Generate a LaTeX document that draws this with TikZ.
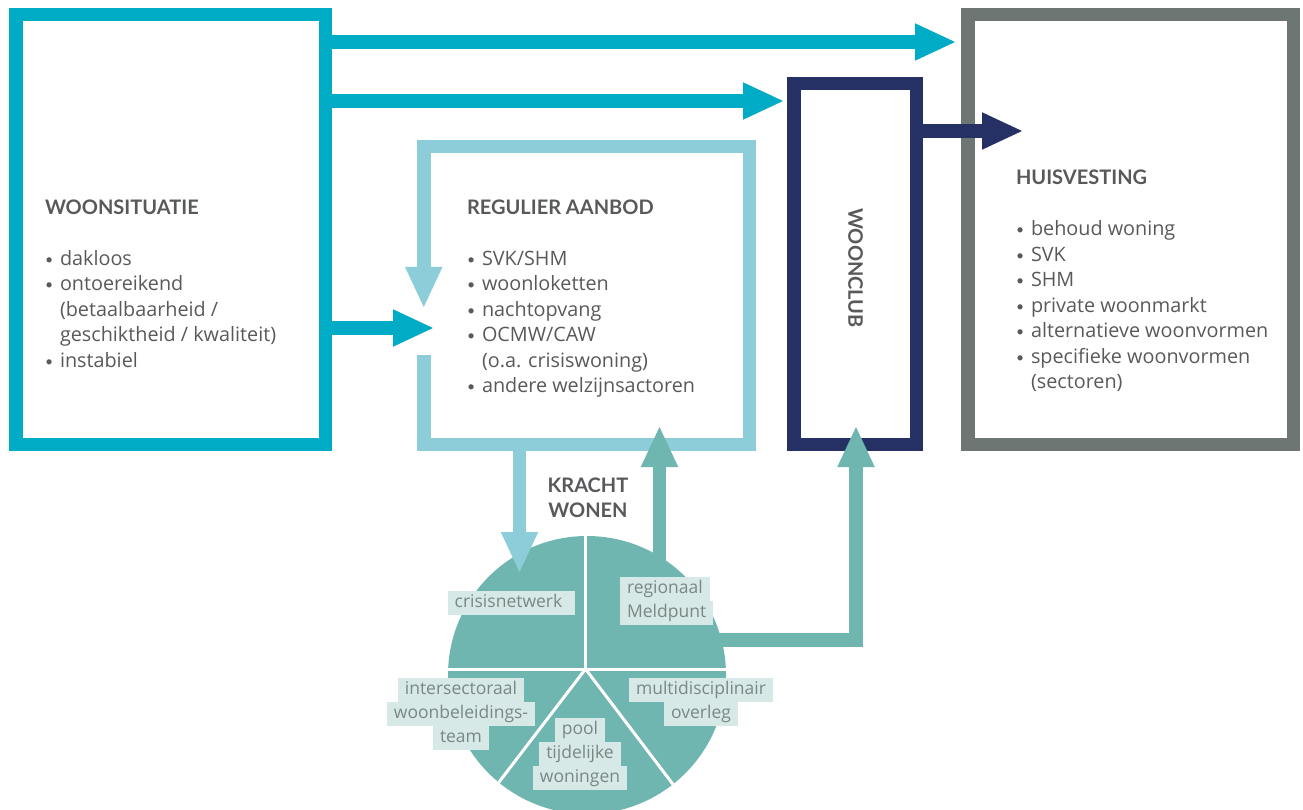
\documentclass[tikz,border=0pt]{standalone}
\usepackage{fontspec}
\setmainfont{Lato}
\newfontfamily\osans{Open Sans}
\usetikzlibrary{arrows.meta}
\definecolor{cyanc}{HTML}{00ABC5}
\definecolor{lblue}{HTML}{8CCDD9}
\definecolor{navy}{HTML}{253065}
\definecolor{grayb}{HTML}{6E7674}
\definecolor{tealc}{HTML}{6FB5B0}
\definecolor{txt}{HTML}{58595B}
\definecolor{labfill}{HTML}{D6E9E7}
\definecolor{labtxt}{HTML}{7B8785}
\newcommand\bodyf{\osans\fontsize{19.8}{25.5}\selectfont}
\newcommand\ttlf{\fontsize{20}{25.5}\selectfont\rmfamily\bfseries}
\newcommand\labelf{\osans\fontsize{17.5}{24}\selectfont}
\newcommand\bul{\makebox[15pt][l]{\raisebox{1pt}{\rmfamily\fontsize{14}{14}\selectfont •}}}
\newcommand\lb[1]{\colorbox{labfill}{\strut\hspace{7pt}#1\hspace{7pt}}}
\setlength\fboxsep{0pt}
\begin{document}
\begin{tikzpicture}[x=1pt,y=-1pt,outer sep=0pt,
  boxframe/.style={draw=#1, line width=13.5pt},
  shaft/.style={draw=#1, line width=13.5pt, -{Triangle[length=40pt,width=37.5pt,line width=0pt]}},
  listtext/.style={anchor=base west, inner sep=0pt, font=\bodyf, text=txt},
  pielabel/.style={inner sep=0pt, font=\labelf, text=labtxt}]
\useasboundingbox (0,0) rectangle (1303,810);
% boxes
\node[boxframe=cyanc, minimum width=309.5pt, minimum height=429.5pt] (ws) at (170.5,229.5) {};
\node[boxframe=grayb, minimum width=325.5pt, minimum height=429.5pt] (hv) at (1130.5,229.5) {};
\node[boxframe=navy, minimum width=122.5pt, minimum height=360.5pt] (wc) at (855,264) {};
\node[minimum width=325.5pt, minimum height=297.5pt] (ra) at (586.5,295.5) {};
% tip coordinates
\coordinate (t1) at (955,42);
\coordinate (t2) at (783,101);
\coordinate (t3) at (433,328);
\coordinate (t4) at (1022,131);
\coordinate (t5) at (424,307);
\coordinate (lbs) at (424,355);
\coordinate (t6) at (519.5,572);
\coordinate (pc) at (587,675);
\coordinate (g1) at (659.5,427);
\coordinate (g2h) at (856,640);
\coordinate (g2) at (856,427);
% connectors
\draw[shaft=cyanc] (ws.east |- t1) -- (t1);
\draw[shaft=cyanc] (ws.east |- t2) -- (t2);
\draw[shaft=cyanc] (ws.east |- t3) -- (t3);
\draw[shaft=navy] (wc.east |- t4) -- (t4);
\draw[shaft=lblue] (ra.west |- lbs) -- (ra.south west) -- (ra.south east) -- (ra.north east) -- (ra.north west) -- (ra.west |- t5);
\draw[shaft=tealc] (pc -| g1) -- (g1);
\draw[shaft=tealc] (pc |- g2h) -- (g2h) -- (g2);
% pie
\node[circle, fill=tealc, minimum size=278pt, inner sep=0pt] (pie) at (pc) {};
\begin{scope}
  \clip (pc) circle[radius=139pt];
  \draw[white, line width=3pt] (585.5,669) -- (585.5,520);
  \draw[white, line width=3pt] (430,669) -- (740,669);
  \draw[white, line width=3pt] (585.5,669) -- (457,837);
  \draw[white, line width=3pt] (585.5,669) -- (716,841);
\end{scope}
\draw[shaft=lblue] (ra.south -| t6) -- (t6);
% box texts
\node[listtext] (wstxt) at (45,214.5) {\begin{tabular}[t]{@{}l@{}l@{}}
\multicolumn{2}{@{}l@{}}{\ttlf WOONSITUATIE}\\
\\
\bul & dakloos\\
\bul & ontoereikend\\
 & (betaalbaarheid /\\
 & geschiktheid / kwaliteit)\\
\bul & instabiel
\end{tabular}};
\node[listtext] (ratxt) at (467,214.5) {\begin{tabular}[t]{@{}l@{}l@{}}
\multicolumn{2}{@{}l@{}}{\ttlf REGULIER AANBOD}\\
\\
\bul & SVK/SHM\\
\bul & woonloketten\\
\bul & nachtopvang\\
\bul & OCMW/CAW\\
 & (o.a. crisiswoning)\\
\bul & andere welzijnsactoren
\end{tabular}};
\node[listtext] (hvtxt) at (1016,185) {\begin{tabular}[t]{@{}l@{}l@{}}
\multicolumn{2}{@{}l@{}}{\ttlf HUISVESTING}\\
\\
\bul & behoud woning\\
\bul & SVK\\
\bul & SHM\\
\bul & private woonmarkt\\
\bul & alternatieve woonvormen\\
\bul & specifieke woonvormen\\
 & (sectoren)
\end{tabular}};
\node[rotate=-90, font=\ttlf, text=txt, inner sep=0pt] (wctxt) at (855.5,268) {WOONCLUB};
\node[anchor=base, font=\ttlf, text=txt, inner sep=0pt] (kw) at (588,492) {\begin{tabular}[t]{@{}c@{}}KRACHT\\WONEN\end{tabular}};
% pie labels
\node[pielabel] (l1) at (511.5,602.5) {\begin{tabular}{@{}c@{}}\lb{crisisnetwerk\hspace{6pt}}\end{tabular}};
\node[pielabel, anchor=north west] (l2) at (620,577) {\begin{tabular}{@{}l@{}}\lb{regionaal}\\\lb{Meldpunt}\end{tabular}};
\node[pielabel] (l3) at (461,714) {\begin{tabular}{@{}c@{}}\lb{intersectoraal}\\\lb{woonbeleidings-}\\\lb{team}\end{tabular}};
\node[pielabel] (l4) at (701,702) {\begin{tabular}{@{}c@{}}\lb{multidisciplinair}\\\lb{overleg}\end{tabular}};
\node[pielabel] (l5) at (580,753.5) {\begin{tabular}{@{}c@{}}\lb{pool}\\\lb{tijdelijke}\\\lb{woningen}\end{tabular}};
\end{tikzpicture}
\end{document}
